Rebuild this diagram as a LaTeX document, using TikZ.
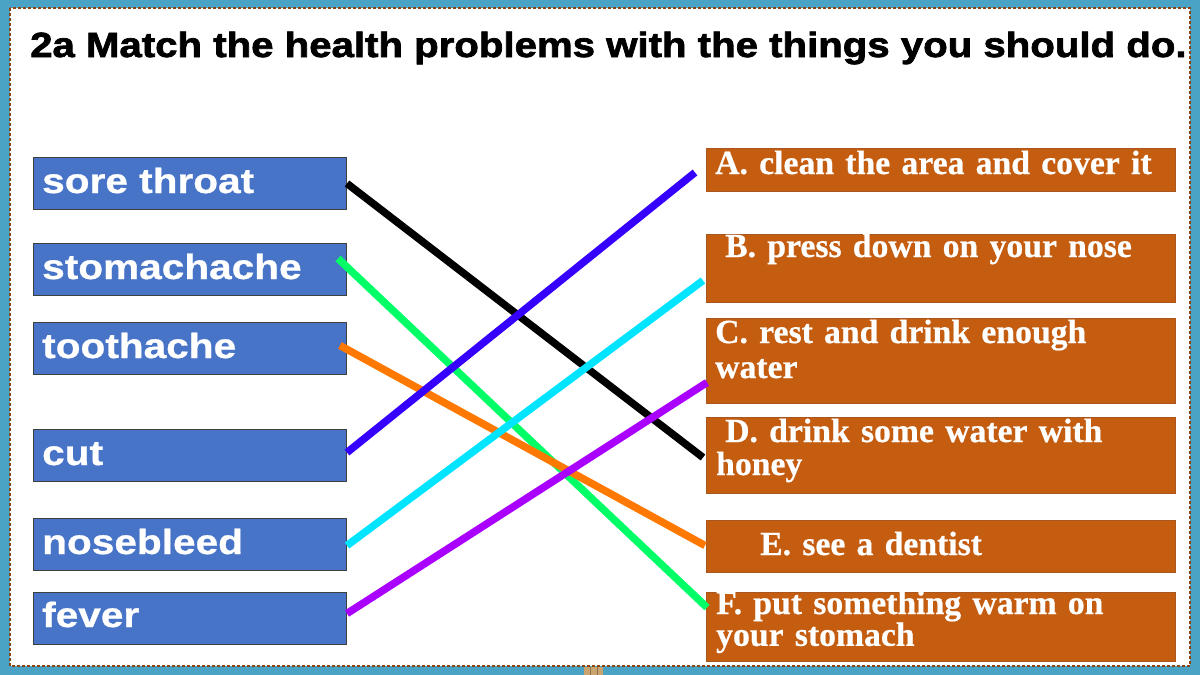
\documentclass[tikz,border=0pt]{standalone}
\usepackage{fontspec}
\newfontfamily\titlesans{Liberation Sans}[FakeStretch=1.148,FakeBold=2]
\newfontfamily\leftsans{Liberation Sans}[FakeStretch=1.16,FakeBold=0.8]
\newfontfamily\rightserif{Liberation Serif}[FakeBold=0.6]
\definecolor{bgteal}{HTML}{4AA3C5}
\definecolor{framebrown}{HTML}{8B4513}
\definecolor{leftblue}{HTML}{4874C8}
\definecolor{leftedge}{HTML}{3F3F3F}
\definecolor{rightorange}{HTML}{C55D11}
\definecolor{rightedge}{HTML}{A9571E}
\definecolor{lgreen}{HTML}{00FF66}
\definecolor{lorange}{HTML}{FF7800}
\definecolor{lblue}{HTML}{3600FF}
\definecolor{lcyan}{HTML}{00E5FF}
\definecolor{lpurple}{HTML}{AA00FF}
\definecolor{tan}{HTML}{C9A46E}
\tikzset{
  leftbox/.style={draw=leftedge, line width=1pt, fill=leftblue, anchor=north west, minimum width=313pt, minimum height=52pt, inner sep=0pt},
  rightbox/.style={draw=rightedge, line width=1pt, fill=rightorange, anchor=north west, minimum width=469pt, inner sep=0pt},
  lefttext/.style={anchor=base west, inner sep=0pt, text=white, font=\leftsans\bfseries\fontsize{35}{40}\selectfont},
  righttext/.style={anchor=base west, inner sep=0pt, text=white, text width=460pt, align=left, font=\rightserif\bfseries\fontsize{33.7}{35}\selectfont},
  match/.style={line width=7.5pt},
}
\begin{document}
\begin{tikzpicture}[x=1pt,y=-1pt]
\useasboundingbox (0,0) rectangle (1200,675);
\fill[bgteal] (0,0) rectangle (1200,675);
\fill[tan] (584,667) rectangle (603,675);
\draw[tan!70!black, line width=0.8pt] (590,667) -- (590,675) (597,667) -- (597,675);
\fill[white] (10,8) rectangle (1190,666);
\draw[framebrown, line width=1.5pt, dash pattern=on 3pt off 2pt] (10,8) rectangle (1190,666);

\node[anchor=base west, inner sep=0pt, font=\titlesans\bfseries\fontsize{35}{40}\selectfont] (title) at (30,57) {2a Match the health problems with the things you should do.};

% left boxes
\node[leftbox] (sore) at (33,157) {};
\node[leftbox] (stom) at (33,243) {};
\node[leftbox] (tooth) at (33,322) {};
\node[leftbox] (cut) at (33,429) {};
\node[leftbox] (nose) at (33,518) {};
\node[leftbox] (fever) at (33,592) {};
\node[lefttext] (soreT) at (42,193) {sore throat};
\node[lefttext] (stomT) at (42,279) {stomachache};
\node[lefttext] (toothT) at (42,358) {toothache};
\node[lefttext] (cutT) at (42,465) {cut};
\node[lefttext] (noseT) at (42,554) {nosebleed};
\node[lefttext] (feverT) at (42,627) {fever};

% right boxes
\node[rightbox, minimum height=43pt] (A) at (706,148) {};
\node[rightbox, minimum height=68pt] (B) at (706,234) {};
\node[rightbox, minimum height=85pt] (C) at (706,318) {};
\node[rightbox, minimum height=76pt] (D) at (706,417) {};
\node[rightbox, minimum height=52pt] (E) at (706,520) {};
\node[rightbox, minimum height=69pt] (F) at (706,592) {};
\node[righttext] (AT) at (715,174) {A. clean the area and cover it};
\node[righttext] (BT) at (725,257) {B. press down on your nose};
\node[righttext] (CT) at (715,343) {C. rest and drink enough\\water};
\node[righttext, font=\rightserif\bfseries\fontsize{33.7}{33}\selectfont] (DT) at (716,442) {\hspace*{9pt}D. drink some water with\\honey};
\node[righttext] (ET) at (760,555) {E. see a dentist};
\node[righttext, font=\rightserif\bfseries\fontsize{33.7}{28}\selectfont] (FT) at (716,614) {F. put something warm on\\your stomach};

% matching lines
\draw[match, black] (sore.east) -- ([xshift=-3pt,yshift=-2pt]D.west);
\draw[match, lgreen] ([xshift=-9pt,yshift=11pt]stom.east) -- ([xshift=1pt,yshift=19.5pt]F.west);
\draw[match, lorange] ([xshift=-7pt,yshift=3pt]tooth.east) -- ([xshift=-1pt,yshift=1pt]E.west);
\draw[match, lblue] ([yshift=3pt]cut.east) -- ([xshift=-11pt,yshift=-2.5pt]A.west);
\draw[match, lcyan] ([yshift=-1pt]nose.east) -- ([xshift=-3pt,yshift=-12pt]B.west);
\draw[match, lpurple] ([yshift=5pt]fever.east) -- ([xshift=1pt,yshift=-21.5pt]C.west);
\end{tikzpicture}
\end{document}
